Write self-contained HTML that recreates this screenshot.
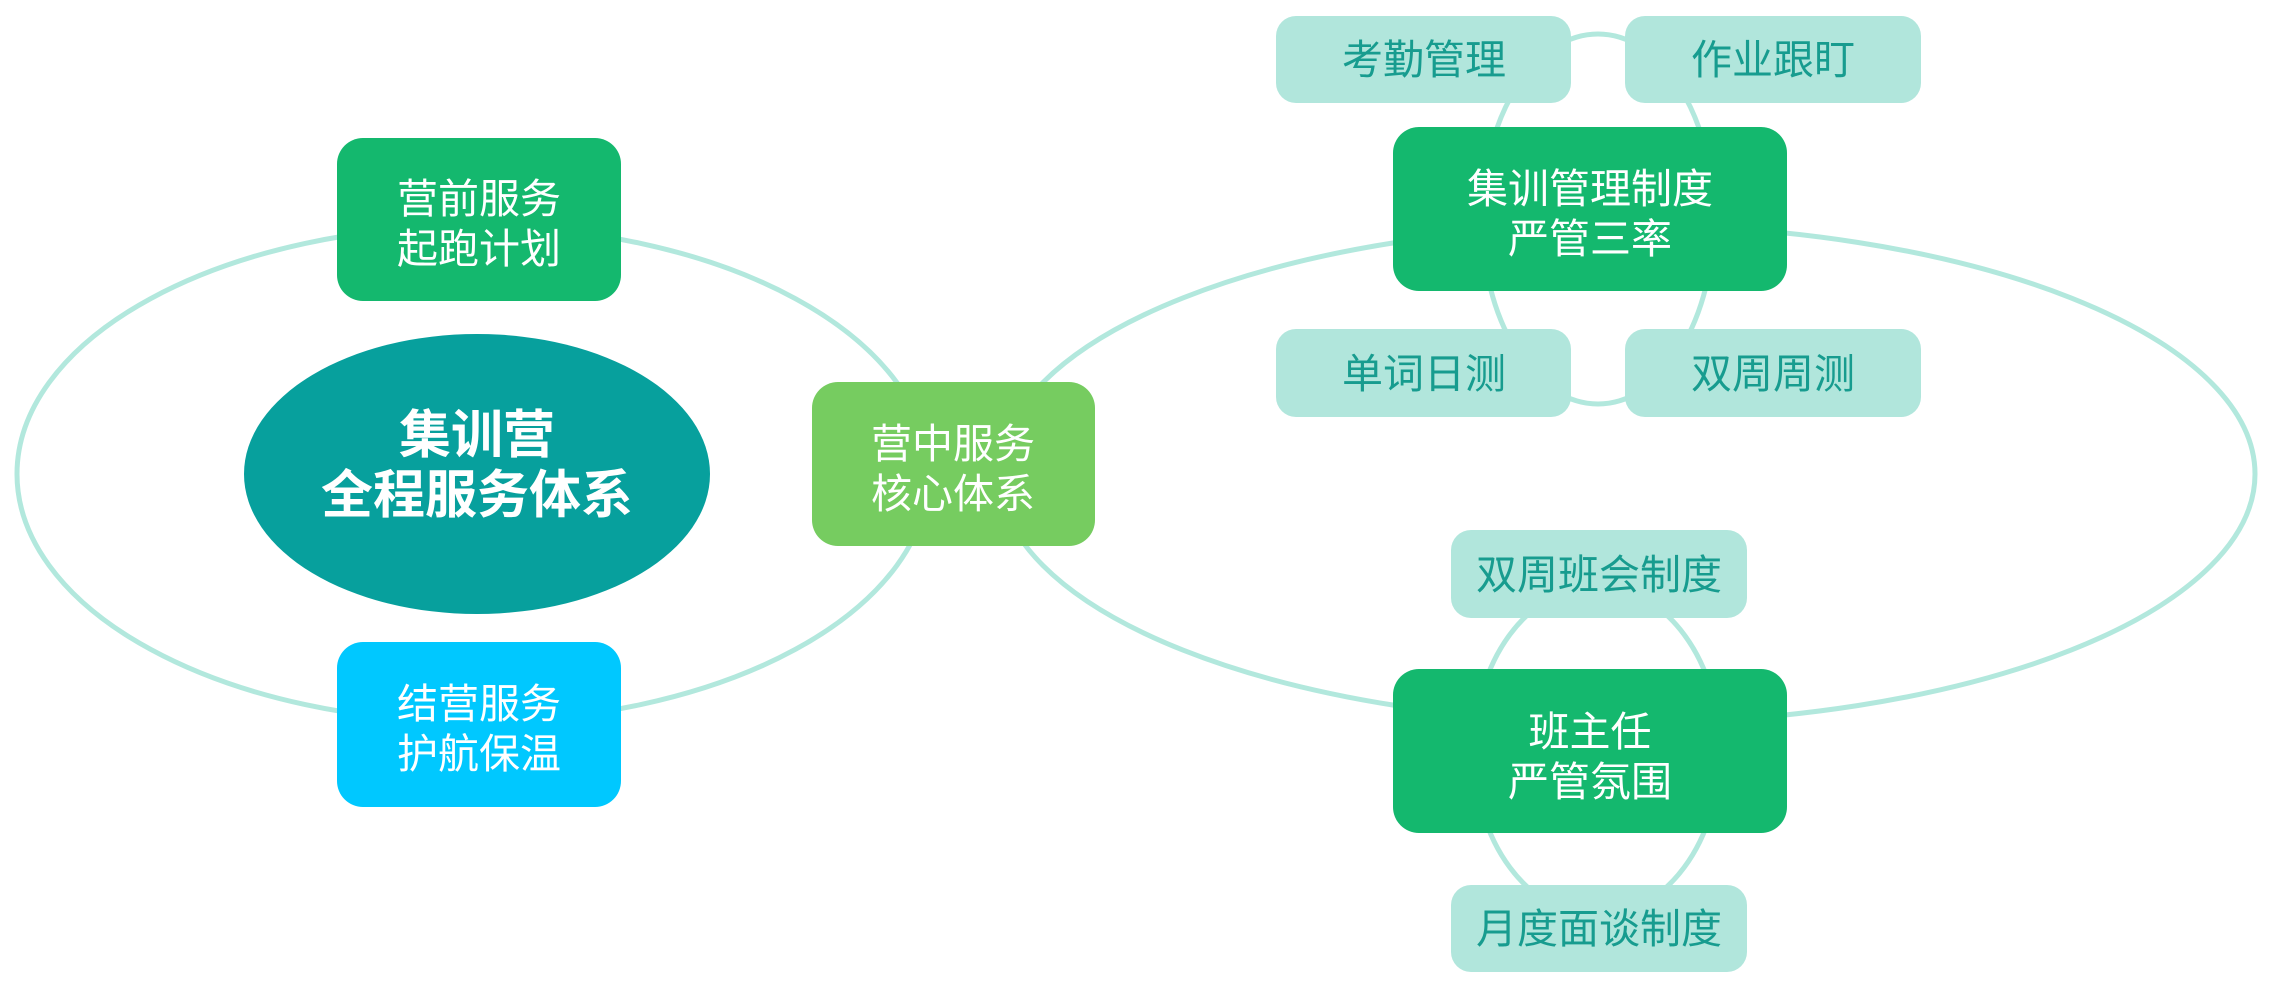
<!DOCTYPE html>
<html><head><meta charset="utf-8"><style>
html,body{margin:0;padding:0;background:#fff;}
svg{display:block;}
text{font-family:"Liberation Sans","Noto Sans CJK SC",sans-serif;text-anchor:middle;}
</style></head><body>
<svg width="2279" height="982" viewBox="0 0 2279 982" xmlns="http://www.w3.org/2000/svg">
<g fill="none" stroke="#b2e8dd" stroke-width="5">
<ellipse cx="473" cy="474" rx="456" ry="248"/>
<ellipse cx="1627" cy="474" rx="628" ry="249"/>
<ellipse cx="1598" cy="219" rx="116" ry="185"/>
<ellipse cx="1597" cy="751" rx="123" ry="165"/>
</g>
<ellipse cx="477" cy="474" rx="233" ry="140" fill="#07a09d"/>
<text x="477" y="453" font-size="52" font-weight="bold" fill="#fff">集训营</text>
<text x="477" y="513" font-size="52" font-weight="bold" fill="#fff">全程服务体系</text>

<rect x="337" y="138" width="284" height="163" rx="26" fill="#14b86e"/>
<text x="479" y="213" font-size="41" fill="#fff">营前服务</text>
<text x="479" y="263" font-size="41" fill="#fff">起跑计划</text>

<rect x="812" y="382" width="283" height="164" rx="26" fill="#76cc60"/>
<text x="953" y="458" font-size="41" fill="#fff">营中服务</text>
<text x="953" y="508" font-size="41" fill="#fff">核心体系</text>

<rect x="337" y="642" width="284" height="165" rx="26" fill="#00c8ff"/>
<text x="479" y="718" font-size="41" fill="#fff">结营服务</text>
<text x="479" y="768" font-size="41" fill="#fff">护航保温</text>

<g fill="#b1e6dc">
<rect x="1276" y="16" width="295" height="87" rx="20"/>
<rect x="1625" y="16" width="296" height="87" rx="20"/>
<rect x="1276" y="329" width="295" height="88" rx="20"/>
<rect x="1625" y="329" width="296" height="88" rx="20"/>
<rect x="1451" y="530" width="296" height="88" rx="20"/>
<rect x="1451" y="885" width="296" height="87" rx="20"/>
</g>
<g fill="#179c8f" font-size="41">
<text x="1424" y="74">考勤管理</text>
<text x="1773" y="74">作业跟盯</text>
<text x="1424" y="388">单词日测</text>
<text x="1773" y="388">双周周测</text>
<text x="1599" y="589">双周班会制度</text>
<text x="1599" y="943">月度面谈制度</text>
</g>
<rect x="1393" y="127" width="394" height="164" rx="26" fill="#14b86e"/>
<text x="1590" y="203" font-size="41" fill="#fff">集训管理制度</text>
<text x="1590" y="253" font-size="41" fill="#fff">严管三率</text>
<rect x="1393" y="669" width="394" height="164" rx="26" fill="#14b86e"/>
<text x="1590" y="746" font-size="41" fill="#fff">班主任</text>
<text x="1590" y="796" font-size="41" fill="#fff">严管氛围</text>
</svg>
</body></html>
